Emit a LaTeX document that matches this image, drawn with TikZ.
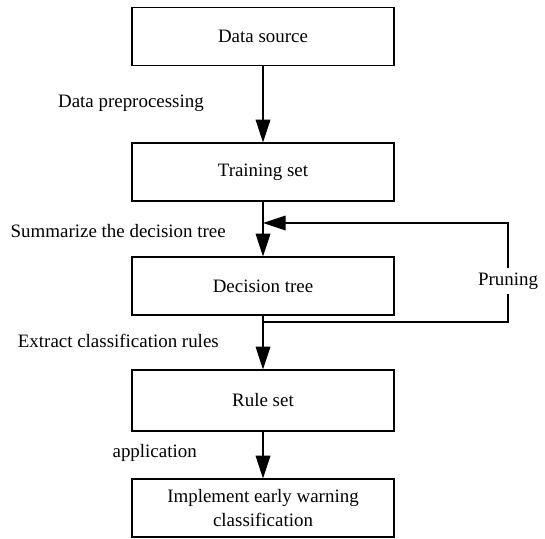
\documentclass[tikz,border=0pt]{standalone}
\usepackage{fontspec}
\setmainfont{Liberation Serif}
\usetikzlibrary{arrows.meta}
\begin{document}
\begin{tikzpicture}[x=0.75pt,y=-0.75pt,
  stepbox/.style={draw,line width=0.9pt,minimum width=262*0.75pt,minimum height=58*0.75pt,
    inner sep=0pt,align=center,font=\fontsize{14.2}{17.3}\selectfont},
  lbl/.style={inner sep=0pt,font=\fontsize{14.2}{17.3}\selectfont},
  tip/.style={-{Triangle[length=17pt,width=11pt]}},
  flow/.style={line width=0.9pt,tip}]
\useasboundingbox (0,0) rectangle (545,538);
\node[stepbox] (src) at (263,36.5) {Data source};
\node[stepbox] (train) at (263,172) {Training set};
\node[stepbox] (tree) at (263,286) {Decision tree};
\node[stepbox,minimum height=61*0.75pt] (rules) at (263,400.5) {Rule set};
\node[stepbox] (warn) at (263,508) {Implement early warning\\classification};
% edge labels on the left of the main column
\node[lbl,anchor=east] (l1) at (204,103) {Data preprocessing};
\node[lbl,anchor=east] (l2) at (226,231) {Summarize the decision tree};
\node[lbl,anchor=east] (l3) at (219,341) {Extract classification rules};
\node[lbl,anchor=east] (l4) at (197,453) {application};
% junction points of the pruning loop
\coordinate (j1) at (263,223);
\coordinate (j2) at (263,322);
\coordinate (c1) at (508,223);
\coordinate (c2) at (508,322);
\node[lbl,fill=white,inner ysep=3pt] (prune) at (508,281) {Pruning};
\draw[flow] (src) -- (train);
\draw[flow] (train) -- (tree);
\draw[flow] (tree) -- (rules);
\draw[flow] (rules) -- (warn);
\draw[line width=0.9pt] (j2) -- (c2) -- (prune.south);
\draw[flow] (prune.north) -- (c1) -- (j1);
\end{tikzpicture}
\end{document}
